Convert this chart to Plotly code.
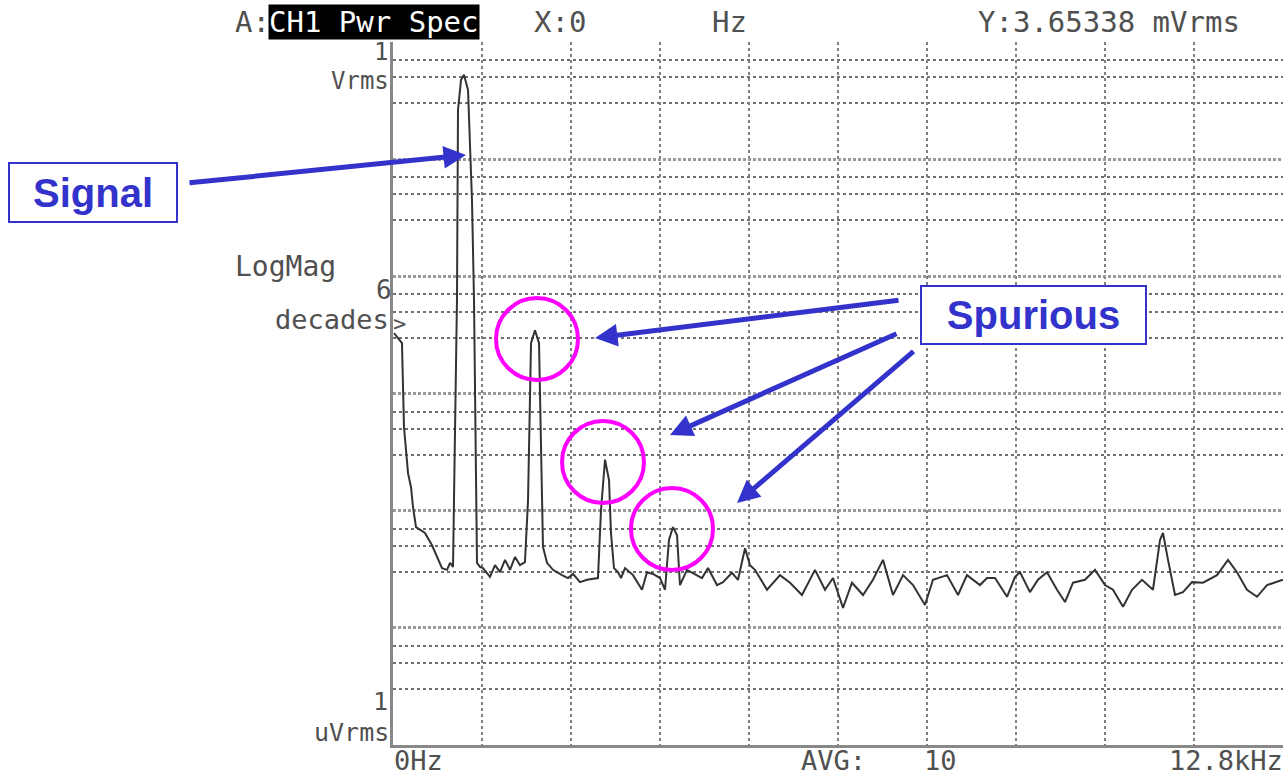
import plotly.graph_objects as go

# ---------------- data ----------------
freq_hz = [15, 129, 158, 216, 259, 288, 331, 403, 460, 561, 705, 777, 820, 863,
           920, 935, 978, 1021, 1079, 1136, 1165, 1208, 1251, 1294, 1352, 1395,
           1467, 1539, 1611, 1683, 1755, 1827, 1898, 1942, 1985, 2042, 2100, 2143,
           2157, 2215, 2301, 2431, 2517, 2589, 2689, 2790, 2948, 2991, 3049, 3107,
           3135, 3178, 3236, 3279, 3337, 3452, 3581, 3653, 3739, 3840, 3912, 3969,
           4027, 4085, 4127, 4228, 4343, 4444, 4530, 4660, 4746, 4875, 4962, 5063,
           5134, 5206, 5379, 5566, 5710, 5882, 6069, 6213, 6328, 6472, 6601, 6760,
           6903, 7047, 7191, 7335, 7479, 7651, 7766, 7968, 8126, 8255, 8442, 8543,
           8658, 8831, 8946, 9018, 9161, 9276, 9406, 9550, 9665, 9780, 9952, 10096,
           10240, 10355, 10499, 10628, 10772, 10930, 11031, 11074, 11146, 11247,
           11362, 11491, 11649, 11851, 12009, 12138, 12282, 12426, 12570, 12714, 12800]
level_dbv = [-49.7, -51.4, -65.7, -73.6, -76.0, -79.4, -82.8, -83.3, -83.8, -85.9, -89.8, -90.1, -88.9, -89.6,
             -44.0, -11.6, -6.5, -5.6, -8.2, -27.0, -44.0, -88.9, -89.6, -89.8, -90.6, -91.3,
             -89.3, -90.5, -88.4, -90.1, -87.9, -89.3, -88.8, -78.2, -51.4, -49.2, -51.4, -78.2,
             -86.2, -88.9, -90.1, -91.0, -91.5, -90.8, -92.2, -91.8, -91.5, -80.0, -71.3, -74.8,
             -83.8, -89.8, -90.5, -91.5, -89.8, -91.0, -93.5, -90.5, -90.8, -91.5, -93.5, -85.0,
             -82.8, -84.2, -92.7, -90.1, -90.8, -91.5, -89.8, -92.7, -92.2, -90.6, -91.8, -86.4,
             -89.3, -90.1, -93.5, -91.0, -92.3, -94.4, -90.1, -93.5, -91.5, -96.6, -92.3, -94.4,
             -91.8, -88.4, -94.4, -91.0, -92.7, -96.1, -91.8, -91.0, -94.4, -91.0, -92.7, -91.5,
             -91.5, -94.7, -91.3, -90.5, -93.9, -91.8, -90.5, -93.5, -95.6, -92.3, -91.8, -90.1,
             -92.7, -93.5, -96.4, -93.5, -91.8, -93.5, -85.0, -83.8, -88.4, -94.4,
             -93.9, -92.2, -92.3, -91.0, -88.4, -90.5, -93.5, -94.7, -92.7, -92.2, -91.8]

span_hz = 12800
x_div_hz = 1280
decades = [1e-6, 1e-5, 1e-4, 1e-3, 1e-2, 1e-1, 1]
minor_factors = [3, 5, 7]

level_vrms = [10 ** (d / 20.0) for d in level_dbv]

# ---------------- layout geometry ----------------
W, H = 1283, 775
L, R, T, B = 393, 0, 42, 30
PW, PH = W - L - R, H - T - B


def px(xp):
    return (xp - L) / PW


def py(yp):
    return (H - B - yp) / PH


HP_FONT = "DejaVu Sans Mono"
HP_GRAY = "#505050"
BLUE = "#3333cc"
MAGENTA = "#ff00ff"

fig = go.Figure()
fig.add_trace(go.Scatter(x=freq_hz, y=level_vrms, mode="lines",
                         line=dict(color="#333333", width=2),
                         hoverinfo="skip", showlegend=False))

minor_vals = [d * f for d in decades[:-1] for f in minor_factors]

fig.update_layout(
    width=W, height=H,
    margin=dict(l=L, r=R, t=T, b=B, pad=0),
    paper_bgcolor="white", plot_bgcolor="white",
    showlegend=False,
    xaxis=dict(range=[0, span_hz], tick0=0, dtick=x_div_hz, showticklabels=False,
               ticks="", showgrid=True, gridcolor="#808080", griddash="dot",
               gridwidth=2, zeroline=False, showline=True, linecolor="#888888",
               linewidth=3, mirror=False),
    yaxis=dict(type="log", range=[-6, 0], tickvals=decades, showticklabels=False,
               ticks="", showgrid=True, gridcolor="#9a9a9a", griddash="3px,2px",
               gridwidth=3, zeroline=False, showline=True, linecolor="#888888",
               linewidth=3,
               minor=dict(tickvals=minor_vals, showgrid=True, gridcolor="#707070",
                          griddash="dot", gridwidth=2, ticks="")),
)

ann = []


def hp_text(text, xp, yp, xanchor="left", size=28, color=HP_GRAY, **kw):
    ann.append(dict(text=text, x=px(xp), y=py(yp), xref="paper", yref="paper",
                    xanchor=xanchor, yanchor="middle", showarrow=False,
                    font=dict(family=HP_FONT, size=size, color=color), **kw))


# header line
hp_text("A:", 233, 22, size=29)
hp_text("CH1 Pwr Spec", 268, 22, size=29, color="white", bgcolor="black", borderpad=0)
hp_text("X:0", 532, 22, size=29)
hp_text("Hz", 710, 22, size=29)
hp_text("Y:3.65338 mVrms", 976, 22, size=29)
# left scale labels
hp_text("1", 390, 52, xanchor="right", size=24)
hp_text("Vrms", 391, 81, xanchor="right", size=24)
hp_text("LogMag", 233, 266)
hp_text("6", 394, 290, xanchor="right", size=26)
hp_text("decades", 391, 319, xanchor="right", size=27)
hp_text(">", 391, 323, size=22)
hp_text("1", 390, 701, xanchor="right", size=25)
hp_text("uVrms", 391, 732, xanchor="right", size=25)
# bottom line
hp_text("0Hz", 392, 760, size=27)
hp_text("AVG:", 799, 760, size=27)
hp_text("10", 922, 760, size=27)
hp_text("12.8kHz", 1285, 760, xanchor="right", size=27)

# call-out boxes
for label, cx, cy, bw, bh in [("Signal", 93, 192, 162, 53), ("Spurious", 1033, 315, 219, 52)]:
    ann.append(dict(text="<b>%s</b>" % label, x=px(cx), y=py(cy), xref="paper", yref="paper",
                    xanchor="center", yanchor="middle", showarrow=False,
                    width=bw, height=bh, borderpad=2, bordercolor=BLUE, borderwidth=2,
                    bgcolor="white",
                    font=dict(family="Liberation Sans", size=40, color=BLUE)))

# arrows (tip, tail) in pixel positions
arrows = [((466, 155), (188, 183)),
          ((595, 338), (900, 300)),
          ((670, 435), (898, 333)),
          ((737, 503), (915, 350))]
for (tx, ty), (sx, sy) in arrows:
    ann.append(dict(text="", x=px(tx), y=py(ty), xref="paper", yref="paper",
                    ax=sx - tx, ay=sy - ty, axref="pixel", ayref="pixel",
                    showarrow=True, arrowhead=2, arrowsize=0.9, arrowwidth=5,
                    arrowcolor=BLUE, standoff=0))

fig.update_layout(annotations=ann)

# magenta circles around the spurious peaks (pixel centre, radius)
shapes = []
for cx, cy, r in [(537, 339, 41), (603, 462, 41), (672, 529, 41)]:
    shapes.append(dict(type="circle", xref="paper", yref="paper",
                       x0=px(cx - r), x1=px(cx + r), y0=py(cy + r), y1=py(cy - r),
                       line=dict(color=MAGENTA, width=4)))
fig.update_layout(shapes=shapes)

fig.write_html("out.html", config={"displayModeBar": False},
               post_script="document.body.style.margin='0px';document.body.style.overflow='hidden';")
